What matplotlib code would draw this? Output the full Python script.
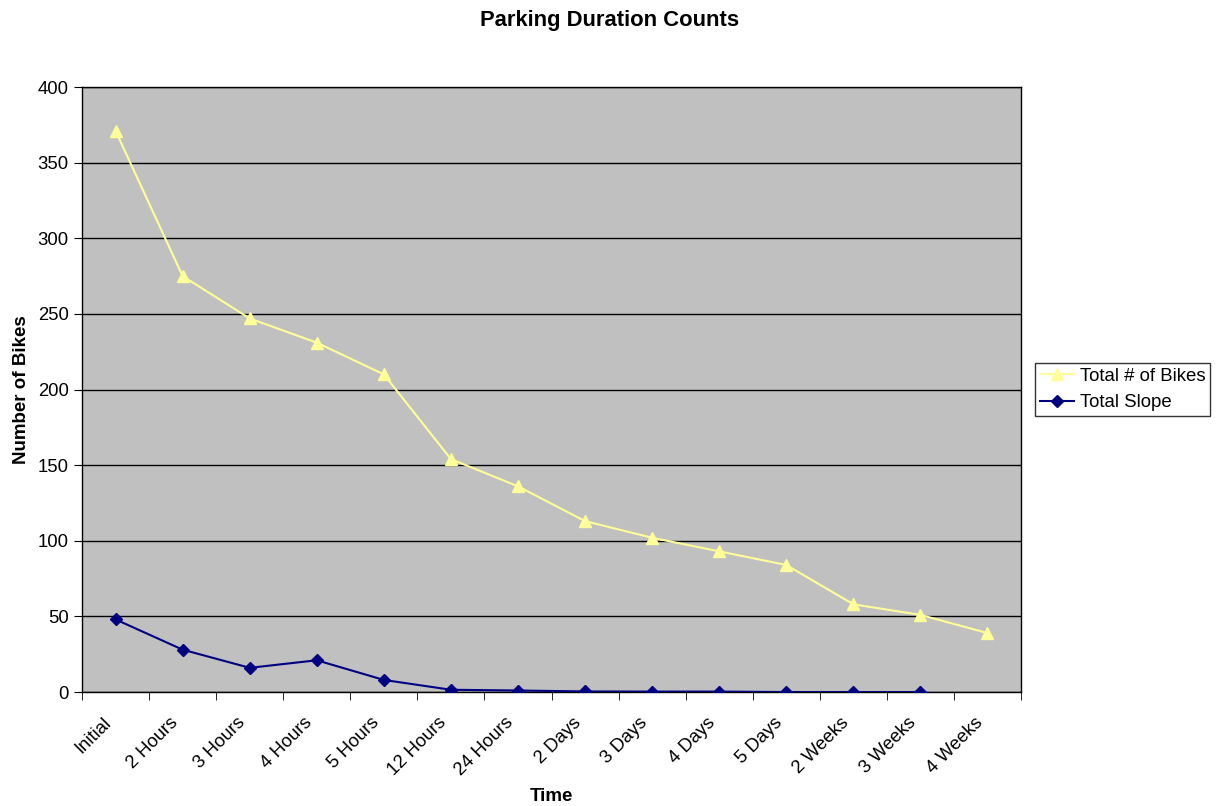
import numpy as np
import matplotlib
matplotlib.use('Agg')
import matplotlib.pyplot as plt
import matplotlib.transforms as mtransforms

plt.rcParams['font.family'] = ['Liberation Sans', 'DejaVu Sans']

categories = ['Initial', '2 Hours', '3 Hours', '4 Hours', '5 Hours', '12 Hours',
              '24 Hours', '2 Days', '3 Days', '4 Days', '5 Days', '2 Weeks',
              '3 Weeks', '4 Weeks']
total_bikes = [371, 275, 247, 231, 210, 154, 136, 113, 102, 93, 84, 58, 51, 39]
total_slope = [48, 28, 16, 21, 8, 1.5, 1, 0.4, 0.3, 0.3, 0, 0, 0]

fig = plt.figure(figsize=(12.19, 8.06), dpi=100)
ax = fig.add_axes([0.0673, 0.1414, 0.7703, 0.7506])
ax.set_facecolor('#C0C0C0')

x = np.arange(len(categories))
ax.plot(x, total_bikes, color='#FFFF99', marker='^', markersize=8,
        linewidth=1.5, label='Total # of Bikes', zorder=3)
ax.plot(x[:len(total_slope)], total_slope, color='#000080', marker='D',
        markersize=6, linewidth=1.5, label='Total Slope', zorder=3)

ax.set_xlim(-0.5, len(categories) - 0.5)
ax.set_ylim(0, 400)
ax.set_yticks(np.arange(0, 401, 50))
ax.yaxis.grid(True, color='black', linewidth=1)
ax.set_axisbelow(True)

ax.set_xticks(x)
ax.set_xticklabels(categories, rotation=45, ha='right', rotation_mode='anchor')
ax.set_xticks(np.arange(-0.5, len(categories)), minor=True)
ax.tick_params(axis='x', which='major', length=0, pad=16, labelsize=13.3)
ax.tick_params(axis='x', which='minor', length=6, direction='out')
ax.tick_params(axis='y', length=6, direction='out', labelsize=13.3)

# nudge the rotated labels a little to the left, like the original
shift = mtransforms.ScaledTranslation(-0.13, 0, fig.dpi_scale_trans)
for lbl in ax.get_xticklabels():
    lbl.set_transform(lbl.get_transform() + shift)

for s in ax.spines.values():
    s.set_color('black')
    s.set_linewidth(1)

ax.set_xlabel('Time', fontsize=13.5, fontweight='bold')
ax.xaxis.set_label_coords(0.5, -0.158)
ax.set_ylabel('Number of Bikes', fontsize=13.5, fontweight='bold')
ax.yaxis.set_label_coords(-0.0555, 0.5)
fig.suptitle('Parking Duration Counts', fontsize=15.8, fontweight='bold', y=0.987)

leg = fig.legend(loc='center left', bbox_to_anchor=(0.849, 0.5167), fontsize=13.4,
                 frameon=True, fancybox=False, edgecolor='black',
                 borderaxespad=0, handlelength=1.87, handletextpad=0.3,
                 borderpad=0.25, labelspacing=0.5)
leg.get_frame().set_linewidth(1)

fig.savefig('out.png', dpi=100)
